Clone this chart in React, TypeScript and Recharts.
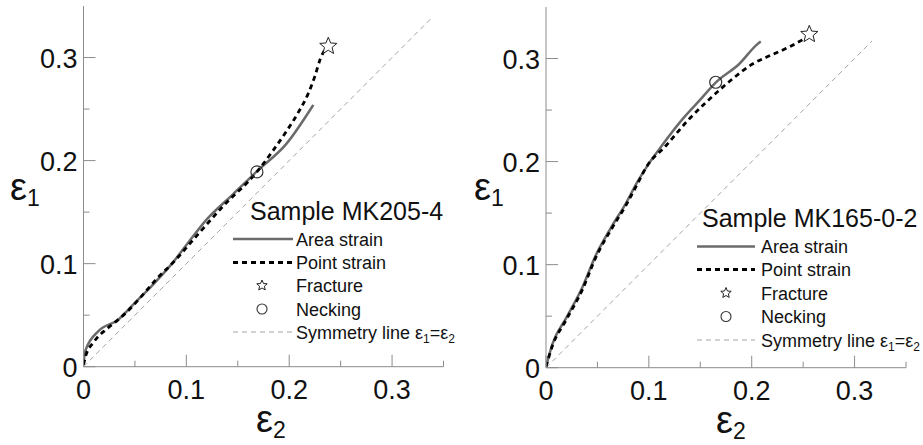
import { ComposedChart, Line, Scatter, XAxis, YAxis } from 'recharts'

const FONT = '"Liberation Sans", Arial, Helvetica, sans-serif'
const AXIS = '#8c8c8c'

// Sample MK205-4 (left)
const areaLeftX = [0, 0.002, 0.015, 0.033, 0.049, 0.065, 0.086, 0.1, 0.119, 0.145, 0.169, 0.197, 0.2234]
const areaLeftY = [0.004, 0.016, 0.035, 0.045, 0.061, 0.077, 0.1, 0.118, 0.142, 0.167, 0.19, 0.216, 0.254]
const pointLeftX = [0, 0.002, 0.01, 0.023, 0.033, 0.041, 0.057, 0.07, 0.088, 0.11, 0.135, 0.1686, 0.183, 0.197, 0.209, 0.218, 0.225, 0.23, 0.236]
const pointLeftY = [0.002, 0.01, 0.024, 0.037, 0.045, 0.052, 0.069, 0.084, 0.102, 0.127, 0.155, 0.189, 0.208, 0.228, 0.247, 0.264, 0.282, 0.298, 0.31]
const fractureLeft = [{ x: 0.238, y: 0.311 }]
const neckingLeft = [{ x: 0.1686, y: 0.189 }]
const symLeftEnd = 0.34

// Sample MK165-0-2 (right)
const areaRightX = [0, 0.0065, 0.0194, 0.0355, 0.0484, 0.0645, 0.0774, 0.0887, 0.1, 0.1104, 0.1329, 0.1491, 0.1652, 0.1878, 0.2055, 0.2088]
const areaRightY = [0.001, 0.0236, 0.0478, 0.0784, 0.109, 0.138, 0.159, 0.18, 0.198, 0.2124, 0.2414, 0.2591, 0.2769, 0.2947, 0.314, 0.3166]
const pointRightX = [0, 0.0065, 0.0194, 0.0355, 0.0484, 0.0645, 0.0774, 0.0887, 0.0974, 0.1168, 0.1378, 0.1556, 0.1716, 0.1813, 0.2007, 0.2136, 0.236, 0.2523]
const pointRightY = [0.001, 0.022, 0.046, 0.076, 0.107, 0.136, 0.157, 0.178, 0.1945, 0.2156, 0.2398, 0.2575, 0.272, 0.2802, 0.2947, 0.301, 0.311, 0.3198]
const fractureRight = [{ x: 0.256, y: 0.3235 }]
const neckingRight = [{ x: 0.165, y: 0.277 }]
const symRightEnd = 0.317

const xTicks = [0, 0.05, 0.1, 0.15, 0.2, 0.25, 0.3, 0.35]
const yTicks = [0, 0.05, 0.1, 0.15, 0.2, 0.25, 0.3]

const zip = (xs: number[], ys: number[]) => xs.map((x, i) => ({ x, y: ys[i] }))

const isMajor = (v: number) => Math.abs(v * 10 - Math.round(v * 10)) < 1e-6
const fmt = (v: number) => (v === 0 ? '0' : v.toFixed(1))

function starPath(cx: number, cy: number, R: number, r: number) {
  let d = ''
  for (let i = 0; i < 10; i++) {
    const rad = i % 2 === 0 ? R : r
    const a = -Math.PI / 2 + (i * Math.PI) / 5
    d += (i === 0 ? 'M' : 'L') + (cx + rad * Math.cos(a)).toFixed(2) + ',' + (cy + rad * Math.sin(a)).toFixed(2)
  }
  return d + 'Z'
}

const Star = (props: any) => (
  <path d={starPath(props.cx, props.cy, 9, 4)} fill="#fff" stroke="#222" strokeWidth={1} />
)
const Ring = (props: any) => (
  <circle cx={props.cx} cy={props.cy} r={6} fill="none" stroke="#333" strokeWidth={1.2} />
)

function makeXTick(axisY: number) {
  return (props: any) => {
    const { x, payload } = props
    const v = payload.value
    const major = isMajor(v)
    return (
      <g>
        <line x1={x} x2={x} y1={axisY} y2={axisY - (major ? 12 : 6)} stroke={AXIS} strokeWidth={1} />
        {major && (
          <text x={x} y={axisY + 32} textAnchor="middle" fontSize={27} fill="#111" fontFamily={FONT}>
            {fmt(v)}
          </text>
        )}
      </g>
    )
  }
}

function makeYTick(axisX: number) {
  return (props: any) => {
    const { y, payload } = props
    const v = payload.value
    const major = isMajor(v)
    return (
      <g>
        <line x1={axisX} x2={axisX + (major ? 12 : 6)} y1={y} y2={y} stroke={AXIS} strokeWidth={1} />
        {major && (
          <text x={axisX - 6} y={y + 10} textAnchor="end" fontSize={27} fill="#111" fontFamily={FONT}>
            {fmt(v)}
          </text>
        )}
      </g>
    )
  }
}

function Panel({
  area,
  point,
  fracture,
  necking,
  symEnd,
  axisX,
  axisY,
  top,
  right,
}: {
  area: { x: number; y: number }[]
  point: { x: number; y: number }[]
  fracture: { x: number; y: number }[]
  necking: { x: number; y: number }[]
  symEnd: number
  axisX: number
  axisY: number
  top: number
  right: number
}) {
  const sym = [
    { x: 0, y: 0 },
    { x: symEnd, y: symEnd },
  ]
  return (
    <ComposedChart width={460} height={445} margin={{ top, right, bottom: 0, left: 0 }}>
      <XAxis
        dataKey="x"
        type="number"
        domain={[0, 0.35]}
        ticks={xTicks}
        interval={0}
        allowDataOverflow
        height={445 - axisY}
        axisLine={{ stroke: AXIS, strokeWidth: 1 }}
        tickLine={false}
        tick={makeXTick(axisY)}
      />
      <YAxis
        dataKey="y"
        type="number"
        domain={[0, 0.35]}
        ticks={yTicks}
        interval={0}
        allowDataOverflow
        width={axisX}
        axisLine={{ stroke: AXIS, strokeWidth: 1 }}
        tickLine={false}
        tick={makeYTick(axisX)}
      />
      <Line
        data={sym}
        dataKey="y"
        type="linear"
        stroke="#9a9a9a"
        strokeWidth={0.9}
        strokeDasharray="5 4"
        dot={false}
        isAnimationActive={false}
      />
      <Line
        data={area}
        dataKey="y"
        type="monotone"
        stroke="#6b6b6b"
        strokeWidth={2.5}
        dot={false}
        isAnimationActive={false}
      />
      <Line
        data={point}
        dataKey="y"
        type="monotone"
        stroke="#000"
        strokeWidth={2.8}
        strokeDasharray="5 4"
        dot={false}
        isAnimationActive={false}
      />
      <Scatter data={necking} dataKey="y" shape={Ring} isAnimationActive={false} />
      <Scatter data={fracture} dataKey="y" shape={Star} isAnimationActive={false} />
    </ComposedChart>
  )
}

function LegendBlock({
  title,
  titleX,
  titleY,
  rows,
  lineX1,
  lineX2,
  markX,
  textX,
}: {
  title: string
  titleX: number
  titleY: number
  rows: number[]
  lineX1: number
  lineX2: number
  markX: number
  textX: number
}) {
  const t = { fontFamily: FONT, fontSize: 18, fill: '#111' }
  return (
    <g>
      <text x={titleX} y={titleY} fontFamily={FONT} fontSize={25} fill="#111">
        {title}
      </text>
      <line x1={lineX1} x2={lineX2} y1={rows[0]} y2={rows[0]} stroke="#6b6b6b" strokeWidth={2.5} />
      <text x={textX} y={rows[0] + 6.5} {...t}>Area strain</text>
      <line x1={lineX1} x2={lineX2} y1={rows[1]} y2={rows[1]} stroke="#000" strokeWidth={2.8} strokeDasharray="5 4" />
      <text x={textX} y={rows[1] + 6.5} {...t}>Point strain</text>
      <path d={starPath(markX, rows[2], 5.5, 2.5)} fill="#fff" stroke="#222" strokeWidth={1} />
      <text x={textX} y={rows[2] + 6.5} {...t}>Fracture</text>
      <circle cx={markX} cy={rows[3]} r={5} fill="none" stroke="#333" strokeWidth={1.1} />
      <text x={textX} y={rows[3] + 6.5} {...t}>Necking</text>
      <line x1={lineX1} x2={lineX2} y1={rows[4]} y2={rows[4]} stroke="#9a9a9a" strokeWidth={0.9} strokeDasharray="5 4" />
      <text x={textX} y={rows[4] + 6.5} {...t}>
        Symmetry line ε<tspan fontSize={12} dy={4}>1</tspan>
        <tspan dy={-4}>=ε</tspan>
        <tspan fontSize={12} dy={4}>2</tspan>
      </text>
    </g>
  )
}

function AxisTitle({ x, y, sub }: { x: number; y: number; sub: string }) {
  return (
    <text x={x} y={y} fontFamily={FONT} fontSize={38} fill="#111">
      ε<tspan fontSize={23} dy={6}>{sub}</tspan>
    </text>
  )
}

export default function App() {
  return (
    <div style={{ position: 'absolute', left: 0, top: 0, width: 923, height: 445, background: '#fff' }}>
      <div style={{ position: 'absolute', left: 0, top: 0 }}>
        <Panel
          area={zip(areaLeftX, areaLeftY)}
          point={zip(pointLeftX, pointLeftY)}
          fracture={fractureLeft}
          necking={neckingLeft}
          symEnd={symLeftEnd}
          axisX={83.5}
          axisY={366.7}
          top={6}
          right={16.5}
        />
      </div>
      <div style={{ position: 'absolute', left: 460, top: 0 }}>
        <Panel
          area={zip(areaRightX, areaRightY)}
          point={zip(pointRightX, pointRightY)}
          fracture={fractureRight}
          necking={neckingRight}
          symEnd={symRightEnd}
          axisX={86}
          axisY={367.7}
          top={7}
          right={14}
        />
      </div>
      <svg
        width={923}
        height={445}
        style={{ position: 'absolute', left: 0, top: 0, pointerEvents: 'none' }}
      >
        <AxisTitle x={10} y={200} sub="1" />
        <AxisTitle x={256} y={432} sub="2" />
        <AxisTitle x={474} y={200} sub="1" />
        <AxisTitle x={716} y={433} sub="2" />
        <LegendBlock
          title="Sample MK205-4"
          titleX={250}
          titleY={220}
          rows={[239, 262.5, 285.5, 309, 332]}
          lineX1={233}
          lineX2={293}
          markX={262}
          textX={296}
        />
        <LegendBlock
          title="Sample MK165-0-2"
          titleX={702}
          titleY={227}
          rows={[246.5, 269.5, 293, 316.5, 340]}
          lineX1={697}
          lineX2={755}
          markX={726}
          textX={761}
        />
      </svg>
    </div>
  )
}
